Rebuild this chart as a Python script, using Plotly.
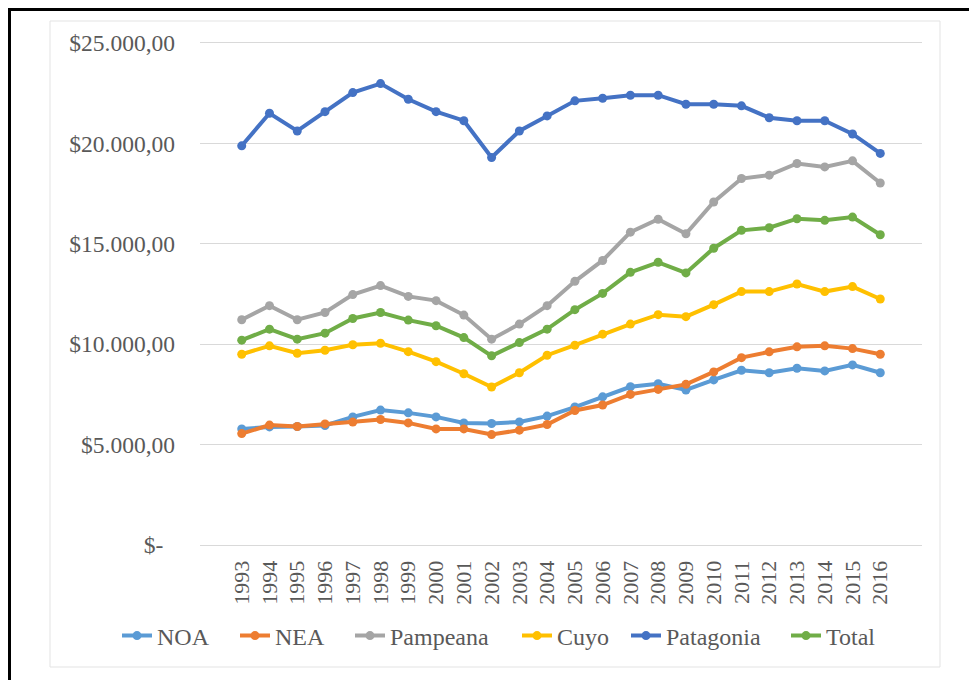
import plotly.graph_objects as go

years = [str(y) for y in range(1993, 2017)]

noa = [5780, 5880, 5900, 5950, 6380, 6720, 6580, 6380, 6080, 6050, 6130, 6420,
       6870, 7380, 7880, 8030, 7720, 8220, 8700, 8580, 8800, 8670, 8970, 8580]
nea = [5550, 5970, 5900, 6030, 6120, 6250, 6080, 5780, 5780, 5500, 5720, 6000,
       6700, 6970, 7500, 7750, 8000, 8620, 9330, 9620, 9870, 9920, 9780, 9500]
pampeana = [11220, 11920, 11220, 11580, 12470, 12920, 12380, 12170, 11450, 10250, 11000, 11920,
            13130, 14170, 15580, 16220, 15500, 17080, 18250, 18420, 19000, 18830, 19130, 18030]
cuyo = [9500, 9920, 9550, 9700, 9970, 10050, 9630, 9130, 8530, 7870, 8580, 9450,
        9950, 10500, 11000, 11470, 11370, 11970, 12620, 12620, 13000, 12620, 12870, 12250]
patagonia = [19880, 21500, 20620, 21580, 22530, 22980, 22200, 21580, 21130, 19300, 20620, 21370,
             22120, 22250, 22400, 22400, 21950, 21950, 21870, 21280, 21130, 21130, 20470, 19500]
total = [10200, 10750, 10250, 10550, 11280, 11580, 11200, 10920, 10330, 9420, 10080, 10750,
         11720, 12530, 13580, 14080, 13550, 14780, 15670, 15800, 16250, 16170, 16330, 15450]

series_names = ["NOA", "NEA", "Pampeana", "Cuyo", "Patagonia", "Total"]
series_values = [noa, nea, pampeana, cuyo, patagonia, total]
series_colors = ["#5B9BD5", "#ED7D31", "#A5A5A5", "#FFC000", "#4472C4", "#70AD47"]

y_tickvals = [0, 5000, 10000, 15000, 20000, 25000]
y_ticktext = ["$-\u00a0\u00a0", "$5.000,00", "$10.000,00", "$15.000,00", "$20.000,00", "$25.000,00"]

FONT = "Liberation Serif, Times New Roman, serif"
TXT = "#595959"
GRID = "#d9d9d9"

# figure pixel geometry (page has an 8px body margin)
W, H = 969, 672
L, R, T, B = 192, 914, 35, 537
def px(x):
    return (x - L) / (R - L)
def py(y):
    return (B - y) / (B - T)

# legend entry left positions (figure px)
legend_x = [109, 227, 342, 509, 618, 778]
legend_ids = ["legend", "legend2", "legend3", "legend4", "legend5", "legend6"]

fig = go.Figure()
for name, vals, col, lid in zip(series_names, series_values, series_colors, legend_ids):
    fig.add_trace(go.Scatter(
        x=years, y=vals, name=name, mode="lines+markers",
        line=dict(color=col, width=4),
        marker=dict(color=col, size=9, symbol="circle"),
        legend=lid,
    ))

shapes = [
    dict(type="rect", xref="paper", yref="paper",
         x0=px(42), x1=px(932), y0=py(659), y1=py(13),
         line=dict(color="#e3e3e3", width=1), layer="below"),
    dict(type="line", xref="paper", yref="paper",
         x0=px(1.5), x1=px(1.5), y0=py(0), y1=py(700),
         line=dict(color="black", width=3)),
    dict(type="line", xref="paper", yref="paper",
         x0=px(0), x1=px(1000), y0=py(1.5), y1=py(1.5),
         line=dict(color="black", width=3)),
]

layout_legends = {}
for lid, lx in zip(legend_ids, legend_x):
    layout_legends[lid] = dict(
        orientation="h", x=px(lx), xanchor="left", y=py(628), yanchor="middle",
        font=dict(family=FONT, size=24, color=TXT), bgcolor="rgba(0,0,0,0)",
        borderwidth=0,
    )

fig.update_layout(
    width=W, height=H,
    margin=dict(l=L, r=W - R, t=T, b=H - B, pad=0),
    paper_bgcolor="white", plot_bgcolor="white",
    font=dict(family=FONT, color=TXT, size=22),
    showlegend=True,
    shapes=shapes,
    xaxis=dict(type="category", tickangle=-90, showgrid=False, zeroline=False,
               showline=True, mirror=True, linecolor=GRID, linewidth=1,
               ticks="", tickfont=dict(family=FONT, size=22, color=TXT),
               ticklabelstandoff=6),
    yaxis=dict(range=[0, 25000], tickvals=y_tickvals, ticktext=y_ticktext,
               showgrid=True, gridcolor=GRID, gridwidth=1, zeroline=False,
               showline=False, ticks="", tickfont=dict(family=FONT, size=23.5, color=TXT),
               ticklabelstandoff=24),
    **layout_legends,
)

fig.write_html("out.html")
